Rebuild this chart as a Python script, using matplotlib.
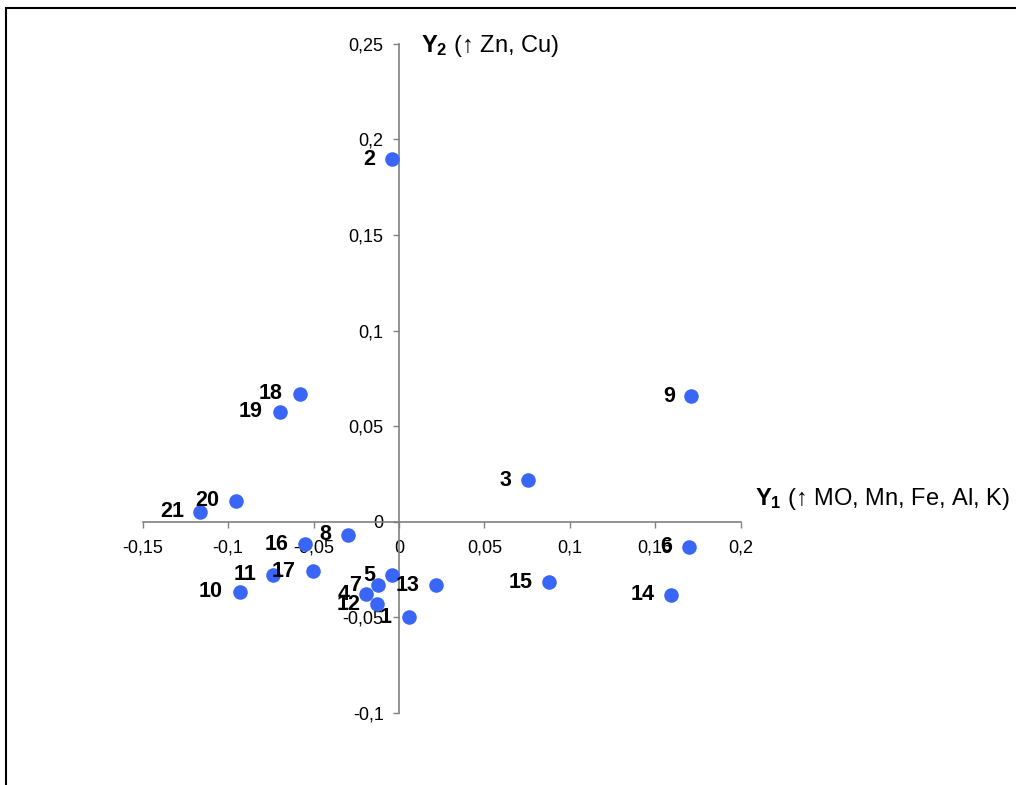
import matplotlib.pyplot as plt
from matplotlib.patches import Rectangle

plt.rcParams['font.family'] = ['Liberation Sans', 'DejaVu Sans']
plt.rcParams['mathtext.fontset'] = 'custom'
plt.rcParams['mathtext.rm'] = 'Liberation Sans'
plt.rcParams['mathtext.bf'] = 'Liberation Sans:bold'

# Sample scores on the first two components
labels = ['1', '2', '3', '4', '5', '6', '7', '8', '9', '10', '11',
          '12', '13', '14', '15', '16', '17', '18', '19', '20', '21']
y1 = [0.0056, -0.0041, 0.0755, -0.0193, -0.0039, 0.1698, -0.0123,
      -0.0299, 0.1711, -0.0933, -0.0736, -0.0129, 0.0217, 0.1592,
      0.0880, -0.0550, -0.0506, -0.0582, -0.0699, -0.0954, -0.1162]
y2 = [-0.0500, 0.1895, 0.0218, -0.0380, -0.0280, -0.0131, -0.0333,
      -0.0068, 0.0657, -0.0366, -0.0277, -0.0432, -0.0333, -0.0382,
      -0.0317, -0.0117, -0.0260, 0.0670, 0.0574, 0.0110, 0.0051]

xticks = [-0.15, -0.1, -0.05, 0, 0.05, 0.1, 0.15, 0.2]
yticks = [-0.1, -0.05, 0, 0.05, 0.1, 0.15, 0.2, 0.25]


def comma(v):
    s = ('%g' % v).replace('.', ',')
    return '0' if s == '-0' else s


fig = plt.figure(figsize=(10.16, 7.85), dpi=100)
ax = fig.add_axes([0.1405, 0.0918, 0.5885, 0.8525])

ax.scatter(y1, y2, s=110, color='#3a66f8', zorder=3, linewidths=0)
for lab, x, y in zip(labels, y1, y2):
    ax.annotate(lab, (x, y), xytext=(-12, 0), textcoords='offset points',
                ha='right', va='center', fontsize=15.5, fontweight='bold',
                zorder=4)

ax.set_xlim(-0.15, 0.2)
ax.set_ylim(-0.1, 0.25)
ax.spines['left'].set_position(('data', 0))
ax.spines['bottom'].set_position(('data', 0))
ax.spines['top'].set_visible(False)
ax.spines['right'].set_visible(False)
for side in ['left', 'bottom']:
    ax.spines[side].set_color('#808080')
    ax.spines[side].set_linewidth(1.2)

ax.set_xticks(xticks)
ax.set_xticklabels([comma(v) for v in xticks])
ax.set_yticks(yticks)
ax.set_yticklabels([comma(v) for v in yticks])
ax.tick_params(axis='both', direction='out', length=4, width=1,
               color='#808080', labelsize=13)
ax.tick_params(axis='x', pad=9)
ax.tick_params(axis='y', pad=7)

fig.text(421 / 1016, 1 - 52 / 785, r'$\mathbf{Y_2}$ (↑ Zn, Cu)',
         fontsize=17, va='baseline', ha='left')
fig.text(755 / 1016, 1 - 505 / 785, r'$\mathbf{Y_1}$ (↑ MO, Mn, Fe, Al, K)',
         fontsize=17, va='baseline', ha='left')

# outer chart border (cut at right and bottom)
fig.patches.append(Rectangle((6 / 1016, -0.1), 1.2, 1 - 8 / 785 + 0.1,
                             transform=fig.transFigure, fill=False,
                             edgecolor='black', linewidth=1.5))

fig.savefig('out.png', dpi=100)
